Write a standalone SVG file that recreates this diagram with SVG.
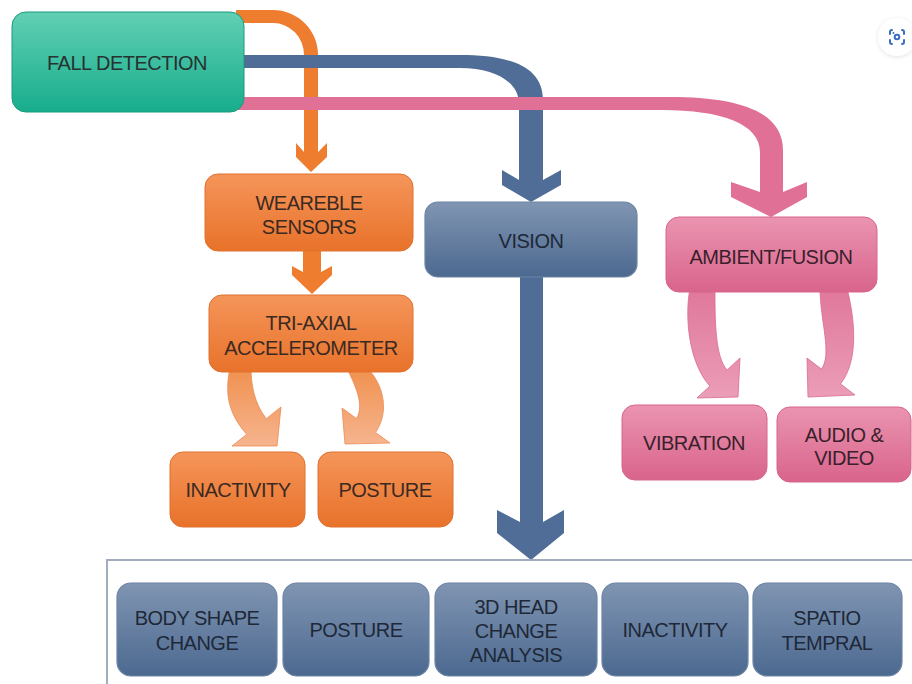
<svg xmlns="http://www.w3.org/2000/svg" width="912" height="684" viewBox="0 0 912 684">
  <defs>
    <linearGradient id="gTeal" x1="0" y1="0" x2="0" y2="1">
      <stop offset="0" stop-color="#62cfb3"/>
      <stop offset="1" stop-color="#17ad8d"/>
    </linearGradient>
    <linearGradient id="gOrange" x1="0" y1="0" x2="0" y2="1">
      <stop offset="0" stop-color="#f5955a"/>
      <stop offset="1" stop-color="#e8722a"/>
    </linearGradient>
    <linearGradient id="gBlue" x1="0" y1="0" x2="0" y2="1">
      <stop offset="0" stop-color="#8095b2"/>
      <stop offset="1" stop-color="#4c6990"/>
    </linearGradient>
    <linearGradient id="gPink" x1="0" y1="0" x2="0" y2="1">
      <stop offset="0" stop-color="#ea94b0"/>
      <stop offset="1" stop-color="#d9648b"/>
    </linearGradient>
    <linearGradient id="gOrangeCurve" x1="0" y1="0" x2="0" y2="1">
      <stop offset="0" stop-color="#f0914f"/>
      <stop offset="1" stop-color="#f6b48e"/>
    </linearGradient>
    <linearGradient id="gPinkCurve" x1="0" y1="0" x2="0" y2="1">
      <stop offset="0" stop-color="#e0779b"/>
      <stop offset="1" stop-color="#eb9db7"/>
    </linearGradient>
    <filter id="softShadow" x="-30%" y="-30%" width="160%" height="160%">
      <feDropShadow dx="0" dy="1" stdDeviation="2" flood-color="#000" flood-opacity="0.12"/>
    </filter>
  </defs>
  <style>
    .lbl { font-family: "Liberation Sans", Arial, sans-serif; font-size: 20px; letter-spacing: -0.5px; text-anchor: middle; }
    .teal { fill: url(#gTeal); stroke: #1a9a7e; stroke-width: 1; }
    .orange { fill: url(#gOrange); stroke: #e0712f; stroke-width: 1; }
    .blue { fill: url(#gBlue); stroke: #6d84a4; stroke-width: 1.2; }
    .pink { fill: url(#gPink); stroke: #d8648c; stroke-width: 1; }
    .tDark { fill: #263330; }
    .tOrange { fill: #3b2a22; }
    .tBlue { fill: #1e2838; }
    .tPink { fill: #3a1f2c; }
    .cOrange { fill: #ef7d2f; }
    .cBlue { fill: #4f6d96; }
    .cPink { fill: #e07096; }
  </style>

  <!-- connectors -->
  <g id="connectors">
    <!-- fall detection to wearable sensors -->
    <path class="cOrange" d="M236,10 H273 A45,45 0 0 1 318,55 V152 L327,143 V157 L311,172 L296,157 V143 L304,152 V55 A31,32 0 0 0 273,23 H236 Z"/>
    <!-- fall detection to vision -->
    <path class="cBlue" d="M236,55 H460 C505,55 543,64 543,100 V180 L561,170 V185 L531,202 L502,185 V170 L519,180 V104 C519,82 495,68 460,68 H236 Z"/>
    <!-- fall detection to ambient/fusion -->
    <path class="cPink" d="M236,97 H670 C740,97 783,112 783,150 V192 L807,182 V197 L771,217 L731,197 V182 L760,192 V152 C760,124 722,110 662,110 H236 Z"/>
    <!-- wearable sensors to tri-axial accelerometer -->
    <path class="cOrange" d="M303,250 V272 L292,266 V275 L312,294 L332,275 V266 L321,272 V250 Z"/>
    <!-- vision to detail panel -->
    <path class="cBlue" d="M520,276 V522 L497,510 V533 L531,560 L564,533 V510 L543,522 V276 Z"/>
    <!-- tri-axial accelerometer to inactivity / posture -->
    <path fill="url(#gOrangeCurve)" stroke="#eb8a52" stroke-width="0.8" d="M230,368 C225,392 227,412 246.7,434.3 L232,446 L277,446 L281,407 L266.3,418.7 C254.6,404 251,385 251,368 Z"/>
    <path fill="url(#gOrangeCurve)" stroke="#eb8a52" stroke-width="0.8" d="M367,368 C380,380 392,408 375.6,432.5 L390,443 L345,444 L342,408 L356.4,418.5 C366,404 352,380 347,368 Z"/>
    <!-- ambient/fusion to vibration / audio and video -->
    <path fill="url(#gPinkCurve)" stroke="#d96a90" stroke-width="0.8" d="M690,288 C684,320 690,364.5 709.9,386 L697,398 L738,397 L740,358 L727.1,370 C715,357 715,320 715,288 Z"/>
    <path fill="url(#gPinkCurve)" stroke="#d96a90" stroke-width="0.8" d="M847,288 C855,320 859,360 840.6,383.9 L855,395 L808,397 L807,358 L821.4,369.1 C832.5,354.7 820,320 820,288 Z"/>
  </g>

  <!-- top node -->
  <g id="fall-detection">
    <rect class="teal" x="12" y="12" width="232" height="100" rx="14"/>
    <text class="lbl tDark" x="127" y="70">FALL DETECTION</text>
  </g>

  <!-- wearable branch -->
  <g id="wearable-sensors">
    <rect class="orange" x="205" y="174" width="208" height="77" rx="13"/>
    <text class="lbl tOrange" x="309" y="210">WEAREBLE</text>
    <text class="lbl tOrange" x="309" y="234">SENSORS</text>
  </g>
  <g id="tri-axial">
    <rect class="orange" x="209" y="295" width="204" height="77" rx="13"/>
    <text class="lbl tOrange" x="311" y="330">TRI-AXIAL</text>
    <text class="lbl tOrange" x="311" y="355">ACCELEROMETER</text>
  </g>
  <g id="inactivity-wearable">
    <rect class="orange" x="170" y="452" width="135" height="75" rx="13"/>
    <text class="lbl tOrange" x="238" y="497">INACTIVITY</text>
  </g>
  <g id="posture-wearable">
    <rect class="orange" x="318" y="452" width="135" height="75" rx="13"/>
    <text class="lbl tOrange" x="385" y="497">POSTURE</text>
  </g>

  <!-- vision branch -->
  <g id="vision">
    <rect class="blue" x="425" y="202" width="212" height="75" rx="13"/>
    <text class="lbl tBlue" x="531" y="248">VISION</text>
  </g>

  <!-- ambient branch -->
  <g id="ambient-fusion">
    <rect class="pink" x="666" y="217" width="211" height="75" rx="13"/>
    <text class="lbl tPink" x="771" y="264">AMBIENT/FUSION</text>
  </g>
  <g id="vibration">
    <rect class="pink" x="622" y="405" width="145" height="75" rx="13"/>
    <text class="lbl tPink" x="694" y="450">VIBRATION</text>
  </g>
  <g id="audio-video">
    <rect class="pink" x="777" y="407" width="134" height="75" rx="13"/>
    <text class="lbl tPink" x="844" y="442">AUDIO &amp;</text>
    <text class="lbl tPink" x="844" y="465">VIDEO</text>
  </g>

  <!-- vision detail panel -->
  <g id="vision-panel">
    <path d="M107,690 V560 H915" fill="none" stroke="#9fadbf" stroke-width="2"/>
  </g>
  <g id="body-shape-change">
    <rect class="blue" x="117" y="583" width="160" height="93" rx="14"/>
    <text class="lbl tBlue" x="197" y="625">BODY SHAPE</text>
    <text class="lbl tBlue" x="197" y="650">CHANGE</text>
  </g>
  <g id="posture-vision">
    <rect class="blue" x="283" y="583" width="146" height="93" rx="14"/>
    <text class="lbl tBlue" x="356" y="637">POSTURE</text>
  </g>
  <g id="head-change-analysis">
    <rect class="blue" x="435" y="583" width="162" height="93" rx="14"/>
    <text class="lbl tBlue" x="516" y="614">3D HEAD</text>
    <text class="lbl tBlue" x="516" y="638">CHANGE</text>
    <text class="lbl tBlue" x="516" y="662">ANALYSIS</text>
  </g>
  <g id="inactivity-vision">
    <rect class="blue" x="602" y="583" width="146" height="93" rx="14"/>
    <text class="lbl tBlue" x="675" y="637">INACTIVITY</text>
  </g>
  <g id="spatio-tempral">
    <rect class="blue" x="753" y="583" width="149" height="93" rx="14"/>
    <text class="lbl tBlue" x="827" y="625">SPATIO</text>
    <text class="lbl tBlue" x="827" y="650">TEMPRAL</text>
  </g>

  <!-- lens button -->
  <g id="lens-button">
    <circle cx="897" cy="37" r="19" fill="#ffffff" filter="url(#softShadow)"/>
    <g fill="none" stroke="#3a6cc0" stroke-width="2" stroke-linecap="round">
      <path d="M890,34 V32 A2,2 0 0 1 892,30"/>
      <path d="M902,30 A2,2 0 0 1 904,32 V34"/>
      <path d="M904,40 V42 A2,2 0 0 1 902,44"/>
      <path d="M892,44 A2,2 0 0 1 890,42 V40"/>
      <circle cx="897" cy="37" r="2.3"/>
    </g>
    <circle cx="893.5" cy="33" r="1" fill="#3a6cc0"/>
  </g>
</svg>
